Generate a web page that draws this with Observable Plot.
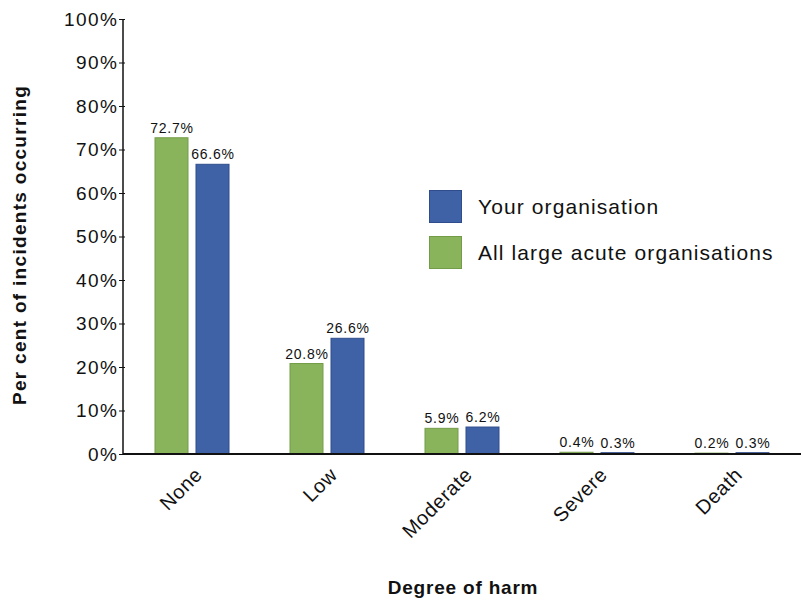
<!DOCTYPE html>
<html>
<head>
<meta charset="utf-8">
<script src="https://cdn.jsdelivr.net/npm/d3@7"></script>
<script src="https://cdn.jsdelivr.net/npm/@observablehq/plot@0.6"></script>
<style>
  html, body { margin: 0; padding: 0; background: #fff; }
  #wrap { position: relative; width: 801px; height: 600px; font-family: "Liberation Sans", Arial, sans-serif; }
  .leg { position: absolute; display: flex; align-items: center; font-size: 21px; letter-spacing: 1.1px; color: #111; }
  .sw { width: 33px; height: 33px; margin-right: 16px; box-sizing: border-box; }
  g[aria-label="y-axis tick label"] text { letter-spacing: 1.5px; }
  g[aria-label="y-axis label"] text { letter-spacing: 1.3px; }
  g[aria-label="fx-axis label"] text { letter-spacing: 0.8px; }
  g[aria-label="fx-axis tick label"] text { letter-spacing: 0.6px; }
  g[aria-label="text"] text { letter-spacing: 0.8px; }
</style>
</head>
<body>
<div id="wrap"></div>
<script>
const categories = ["None", "Low", "Moderate", "Severe", "Death"];
const seriesNames = ["All large acute organisations", "Your organisation"];
const allLargeValues = [72.7, 20.8, 5.9, 0.4, 0.2];
const yourValues = [66.6, 26.6, 6.2, 0.3, 0.3];
const yTicks = [0, 10, 20, 30, 40, 50, 60, 70, 80, 90, 100];
const colors = ["#89b45b", "#3f62a6"];
const strokes = ["#739c48", "#2f4d8c"];

const data = categories.flatMap((c, i) => [
  {category: c, series: seriesNames[0], value: allLargeValues[i]},
  {category: c, series: seriesNames[1], value: yourValues[i]}
]);

const W = 801, H = 600, ML = 123, MR = 0, MT = 19, MB = 146;

const chart = Plot.plot({
  width: W, height: H,
  marginLeft: ML, marginRight: MR, marginTop: MT, marginBottom: MB,
  style: {fontFamily: "'Liberation Sans', Arial, sans-serif", background: "#fff", color: "#111"},
  fx: {domain: categories, padding: 0, label: null},
  x: {domain: seriesNames, paddingInner: 0.19, paddingOuter: 0.71, axis: null},
  y: {domain: [0, 100], axis: null},
  color: {domain: seriesNames, range: colors},
  marks: [
    Plot.axisY({ticks: yTicks, tickFormat: d => d + "%", tickSize: 6, tickPadding: 1, fontSize: 19, label: null}),
    Plot.axisY({ticks: [], label: "Per cent of incidents occurring", labelAnchor: "center", labelArrow: "none", labelOffset: 113, fontSize: 19, fontWeight: "bold"}),
    Plot.axisFx({anchor: "bottom", tickRotate: -45, tickSize: 0, tickPadding: 17, fontSize: 20, label: null, dx: 6}),
    Plot.axisFx({anchor: "bottom", ticks: [], label: "Degree of harm", labelAnchor: "center", labelArrow: "none", labelOffset: 139, fontSize: 19, fontWeight: "bold"}),
    Plot.barY(data, {fx: "category", x: "series", y: "value", fill: "series",
      stroke: d => strokes[seriesNames.indexOf(d.series)], strokeWidth: 1}),
    Plot.text(data, {fx: "category", x: "series", y: "value", text: d => d.value.toFixed(1) + "%", dy: -10, fontSize: 14, fill: "#111"})
  ]
});

// axis lines drawn from the chart's own scales
const ys = chart.scale("y");
const svg = d3.select(chart.tagName === "svg" ? chart : chart.querySelector("svg"));
svg.append("line")
  .attr("x1", ML).attr("x2", W - MR)
  .attr("y1", ys.apply(0)).attr("y2", ys.apply(0))
  .attr("stroke", "#111").attr("stroke-width", 2);
svg.append("line")
  .attr("x1", ML).attr("x2", ML)
  .attr("y1", ys.apply(100)).attr("y2", ys.apply(0))
  .attr("stroke", "#111").attr("stroke-width", 1.5);

// nudge the y title slightly lower, as in the reference
svg.selectAll('g[aria-label="y-axis label"]').each(function() {
  const t = this.getAttribute("transform") || "";
  this.setAttribute("transform", "translate(0,8) " + t);
});

const wrap = document.getElementById("wrap");
wrap.appendChild(chart);

// legend
const legendItems = [
  {name: seriesNames[1], color: colors[1], stroke: strokes[1], top: 190},
  {name: seriesNames[0], color: colors[0], stroke: strokes[0], top: 236}
];
for (const it of legendItems) {
  const d = document.createElement("div");
  d.className = "leg";
  d.style.left = "429px";
  d.style.top = it.top + "px";
  d.innerHTML = `<div class="sw" style="background:${it.color};border:1px solid ${it.stroke}"></div><span>${it.name}</span>`;
  wrap.appendChild(d);
}
</script>
</body>
</html>
